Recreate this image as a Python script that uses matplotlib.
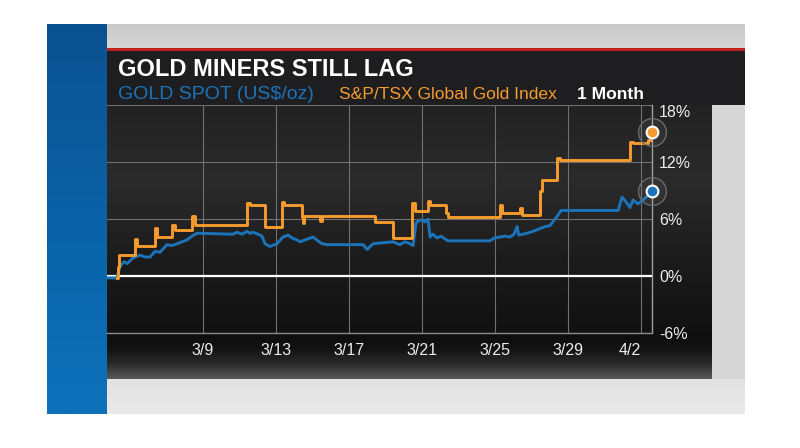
import numpy as np
import matplotlib
matplotlib.use("Agg")
import matplotlib.pyplot as plt
from matplotlib.patches import Rectangle
from matplotlib.colors import LinearSegmentedColormap

plt.rcParams['font.family'] = ['Liberation Sans', 'DejaVu Sans']

# ---------------- data ----------------
title = "GOLD MINERS STILL LAG"
gold_name = "GOLD SPOT (US$/oz)"
index_name = "S&P/TSX Global Gold Index"
period_label = "1 Month"

# x = day of March (32 = Apr 1, 33 = Apr 2), y = % change
gold_day = [3.74, 4.29, 4.45, 4.67, 4.84, 5.16, 5.55, 5.82, 6.10, 6.37, 6.64, 7.03,
            7.30, 7.58, 7.85, 8.12, 8.40, 8.67, 10.64, 10.86, 11.14, 11.41, 11.58,
            11.74, 12.01, 12.23, 12.40, 12.67, 13.05, 13.38, 13.66, 13.88, 14.15,
            14.32, 14.59, 15.03, 15.30, 15.52, 15.79, 17.77, 17.99, 18.32, 18.86,
            19.41, 19.79, 20.07, 20.34, 20.51, 20.67, 20.89, 21.16, 21.33, 21.44,
            21.60, 21.82, 22.04, 22.26, 22.42, 24.73, 24.95, 25.27, 25.55, 25.82,
            26.04, 26.21, 26.30, 26.75, 27.08, 27.47, 27.74, 28.01, 28.29, 28.45,
            28.62, 31.74, 31.96, 32.18, 32.40, 32.56, 32.84, 33.11, 33.33, 33.60]
gold_pct = [-0.2, -0.2, 1.0, 1.5, 1.3, 1.9, 2.2, 2.0, 2.0, 2.6, 2.5, 3.3,
            3.2, 3.4, 3.6, 3.8, 4.2, 4.5, 4.4, 4.6, 4.4, 4.7, 4.5,
            4.6, 4.4, 4.2, 3.4, 3.1, 3.4, 4.1, 4.3, 4.0, 3.8,
            3.6, 3.8, 4.1, 3.7, 3.4, 3.3, 3.3, 2.8, 3.4, 3.5,
            3.6, 3.3, 3.6, 3.4, 3.2, 5.6, 5.9, 5.7, 6.0, 4.1,
            4.4, 4.0, 4.2, 3.9, 3.7, 3.7, 4.0, 4.1, 4.2, 4.1,
            4.4, 5.2, 4.3, 4.5, 4.7, 5.0, 5.2, 5.3, 6.0, 6.4,
            6.9, 6.9, 8.3, 7.8, 7.2, 8.0, 7.6, 8.0, 8.4, 8.9]

index_day = [4.30, 4.36, 4.42, 5.27, 5.38, 6.37, 6.50, 7.30, 7.45, 8.40, 8.55,
             11.41, 11.55, 12.40, 13.33, 13.45, 14.42, 14.48, 14.56, 15.41, 15.50,
             18.42, 19.40, 20.45, 20.60, 21.33, 21.45, 22.30, 22.45, 25.27, 25.40,
             26.37, 26.50, 27.47, 27.58, 28.40, 28.55, 32.40, 32.55, 33.38, 33.60]
index_pct = [-0.2, 1.0, 2.2, 3.9, 3.2, 5.1, 4.1, 5.4, 4.8, 6.3, 5.4,
             7.7, 7.5, 5.2, 7.8, 7.5, 6.2, 5.6, 6.3, 5.8, 6.3,
             5.7, 4.0, 7.7, 6.8, 7.9, 7.5, 6.6, 6.2, 7.5, 6.6,
             7.2, 6.4, 9.0, 10.1, 12.4, 12.2, 14.1, 14.0, 14.3, 15.2]

x_tick_days = [9, 13, 17, 21, 25, 29, 33]
x_tick_labels = ["3/9", "3/13", "3/17", "3/21", "3/25", "3/29", "4/2"]
y_ticks = [-6, 0, 6, 12, 18]
y_tick_labels = ["-6%", "0%", "6%", "12%", "18%"]

BLUE = "#1b74ba"
ORANGE = "#f69b2d"

# ---------------- figure & background ----------------
W, H = 800, 448
fig = plt.figure(figsize=(W / 100, H / 100), dpi=100, facecolor="white")

bg = fig.add_axes([0, 0, 1, 1], zorder=0)
bg.set_axis_off()


def vgrad(x0, x1, y0, y1, colors, z=1):
    cmap = LinearSegmentedColormap.from_list("g", colors)
    grad = np.linspace(0, 1, 256).reshape(-1, 1)
    bg.imshow(grad, cmap=cmap, extent=(x0, x1, y1, y0), aspect="auto",
              interpolation="bilinear", origin="upper", zorder=z)


def rect(x0, y0, x1, y1, color, z=1):
    bg.add_patch(Rectangle((x0, y0), x1 - x0, y1 - y0, facecolor=color,
                           edgecolor="none", zorder=z))


# light gray studio background
rect(47, 24, 745, 414, "#dcdcdc", 1)
vgrad(107, 745, 24, 48, ["#c9c9c9", "#d6d6d6"], 2)
vgrad(107, 745, 379, 414, ["#e2e2e2", "#e9e9e9"], 2)
rect(712, 105, 745, 379, "#d6d6d6", 2)
# blue stripe
vgrad(47, 107, 24, 414, ["#0b5190", "#0a62a6", "#0d72ba"], 3)
# red rule + title band
rect(107, 48, 745, 51.5, "#c1211f", 3)
rect(107, 51.5, 745, 105, "#1e1e21", 3)
# chart panel
vgrad(107, 712, 105, 333, ["#222222", "#2b2b2b", "#1c1c1c", "#111111"], 3)
vgrad(107, 712, 333, 379, ["#0e0e0e", "#121212", "#2a2a2a", "#5a5a5a"], 3)

bg.set_xlim(0, W)
bg.set_ylim(H, 0)

# ---------------- titles ----------------
fig.text(118 / W, 1 - 75.5 / H, title, color="white", fontsize=17,
         fontweight="bold", ha="left", va="baseline", zorder=10)
fig.text(118 / W, 1 - 99 / H, gold_name, color=BLUE, fontsize=14,
         ha="left", va="baseline", zorder=10)
fig.text(339 / W, 1 - 99 / H, index_name, color=ORANGE, fontsize=12.6,
         ha="left", va="baseline", zorder=10)
fig.text(577 / W, 1 - 99 / H, period_label, color="white", fontsize=12.6,
         fontweight="bold", ha="left", va="baseline", zorder=10)

# ---------------- chart ----------------
ax = fig.add_axes([107 / W, 1 - 333 / H, 545 / W, 228 / H], zorder=5)
ax.set_facecolor("none")
ax.set_xlim(3.74, 33.60)
ax.set_ylim(-6, 18)

ax.set_xticks(x_tick_days, x_tick_labels)
ax.set_yticks(y_ticks, y_tick_labels)
ax.yaxis.tick_right()
ax.grid(True, color="#707070", lw=0.8)
ax.set_axisbelow(True)
ax.tick_params(axis="both", length=0, colors="#ececec", labelsize=11.5)
ax.tick_params(axis="x", pad=7)
ax.tick_params(axis="y", pad=5)
for lab in ax.get_yticklabels():
    if lab.get_text() == "18%":
        lab.set_va("top")
ax.get_xticklabels()[-1].set_ha("right")

for s in ["top", "left"]:
    ax.spines[s].set_visible(False)
ax.spines["right"].set_color("#a0a0a0")
ax.spines["bottom"].set_color("#8a8a8a")
ax.spines["right"].set_linewidth(1.0)
ax.spines["bottom"].set_linewidth(1.0)

ax.axhline(0, color="white", lw=1.6, zorder=2)

ax.plot(gold_day, gold_pct, color=BLUE, lw=2.1, zorder=3,
        solid_joinstyle="round")
ax.step(index_day, index_pct, where="post", color=ORANGE, lw=2.1, zorder=4,
        solid_joinstyle="round")

for xs, ys, c in [(gold_day, gold_pct, BLUE), (index_day, index_pct, ORANGE)]:
    ax.scatter([xs[-1]], [ys[-1]], s=400, facecolor=(1, 1, 1, 0.05),
               edgecolor="#6a6a6a", linewidth=1.0, zorder=6, clip_on=False)
    ax.scatter([xs[-1]], [ys[-1]], s=72, facecolor=c, edgecolor="white",
               linewidth=1.5, zorder=7, clip_on=False)

fig.savefig("out.png", dpi=100, facecolor="white")
